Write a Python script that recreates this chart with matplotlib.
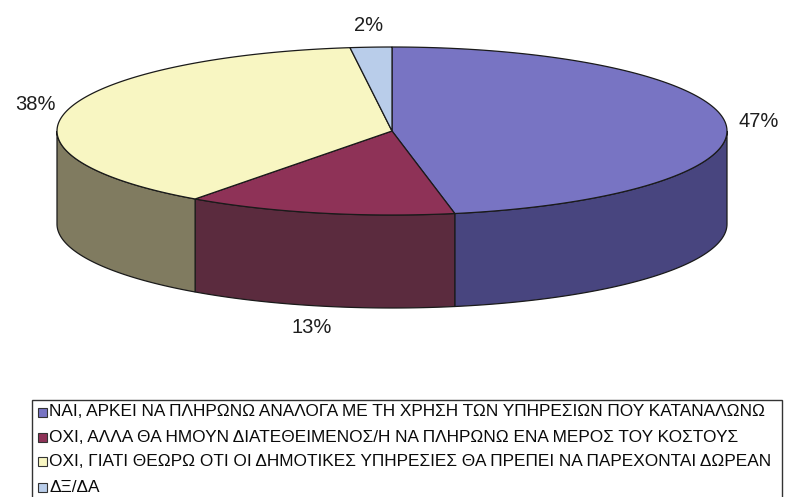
import numpy as np
import matplotlib
matplotlib.use("Agg")
import matplotlib.pyplot as plt
from matplotlib.patches import Polygon, Rectangle

# Survey answers and their shares (%)
categories = [
    "ΝΑΙ, ΑΡΚΕΙ ΝΑ ΠΛΗΡΩΝΩ ΑΝΑΛΟΓΑ ΜΕ ΤΗ ΧΡΗΣΗ ΤΩΝ ΥΠΗΡΕΣΙΩΝ ΠΟΥ ΚΑΤΑΝΑΛΩΝΩ",
    "ΟΧΙ, ΑΛΛΑ ΘΑ ΗΜΟΥΝ ΔΙΑΤΕΘΕΙΜΕΝΟΣ/Η ΝΑ ΠΛΗΡΩΝΩ ΕΝΑ ΜΕΡΟΣ ΤΟΥ ΚΟΣΤΟΥΣ",
    "ΟΧΙ, ΓΙΑΤΙ ΘΕΩΡΩ ΟΤΙ ΟΙ ΔΗΜΟΤΙΚΕΣ ΥΠΗΡΕΣΙΕΣ ΘΑ ΠΡΕΠΕΙ ΝΑ ΠΑΡΕΧΟΝΤΑΙ ΔΩΡΕΑΝ",
    "ΔΞ/ΔΑ",
]
shares = [47, 13, 38, 2]

top_colors = ["#7874c3", "#8e3257", "#f8f6c2", "#b9cdea"]
side_colors = ["#48457f", "#5b2b3e", "#807b60", "#7d8ca6"]

plt.rcParams["font.family"] = ["Liberation Sans", "DejaVu Sans"]

fig = plt.figure(figsize=(7.86, 4.97), dpi=100)
ax = fig.add_axes([0, 0, 1, 1])
ax.set_xlim(0, 786)
ax.set_ylim(497, 0)
ax.axis("off")

# Ellipse geometry of the 3-D pie (screen units)
cx, cy, rx, ry, depth = 392, 131, 335, 84, 93


def ell(t):
    t = np.radians(t)
    return cx + rx * np.cos(t), cy - ry * np.sin(t)


total = float(sum(shares))
bounds = []
a = 90.0
for s in shares:
    b = a - s / total * 360.0
    bounds.append((a, b))
    a = b

# Side walls (front half only)
for (a0, a1), col in zip(bounds, side_colors):
    for k in range(-2, 2):
        lo = max(a1, -180 + 360 * k)
        hi = min(a0, 0 + 360 * k)
        if hi > lo:
            t = np.linspace(hi, lo, 80)
            x, y = ell(t)
            pts = np.column_stack([np.r_[x, x[::-1]], np.r_[y, (y + depth)[::-1]]])
            ax.add_patch(Polygon(pts, closed=True, facecolor=col,
                                 edgecolor="#1a1a1a", linewidth=0.9, zorder=2))

# Top faces
for (a0, a1), col in zip(bounds, top_colors):
    t = np.linspace(a0, a1, 120)
    x, y = ell(t)
    pts = np.column_stack([np.r_[cx, x], np.r_[cy, y]])
    ax.add_patch(Polygon(pts, closed=True, facecolor=col,
                         edgecolor="#1a1a1a", linewidth=0.9, zorder=3))

# Percentage labels outside each slice
for (a0, a1), s in zip(bounds, shares):
    m = np.radians((a0 + a1) / 2)
    lx = cx + (rx + 33) * np.cos(m)
    ly = cy - (ry + 22) * np.sin(m) + (depth if np.sin(m) < 0 else 0)
    ax.text(lx, ly, f"{s}%", ha="center", va="center", fontsize=14.5,
            color="#1e1e1e", zorder=5)

# Legend box
ax.add_patch(Rectangle((32, 400), 750, 110, facecolor="white",
                       edgecolor="#333333", linewidth=1.0, zorder=4))
row_y = [412, 437, 461, 487]
for yy, lab, col in zip(row_y, categories, top_colors):
    ax.add_patch(Rectangle((38, yy - 4.5), 9, 9, facecolor=col,
                           edgecolor="#333333", linewidth=0.8, zorder=5))
    ax.text(49, yy, lab, ha="left", va="center", fontsize=12.4,
            color="#0a0a0a", zorder=5)

fig.savefig("out.png", dpi=100, facecolor="white")
